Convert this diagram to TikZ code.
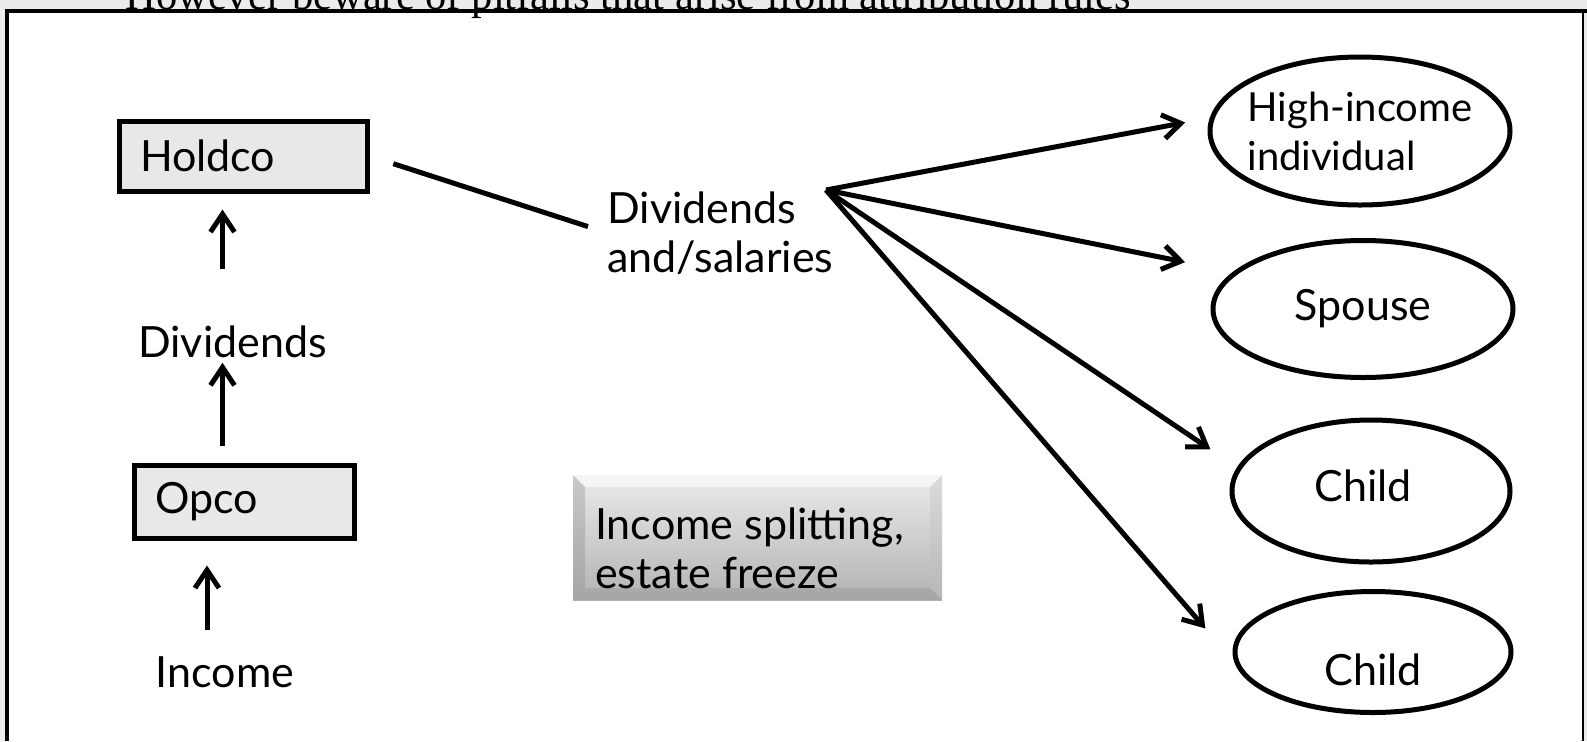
\documentclass[tikz,border=0pt]{standalone}
\usepackage{fontspec}
\setmainfont{Lato}
\newfontfamily\titlefont{Liberation Serif}
\usetikzlibrary{arrows.meta,shapes.geometric}

\tikzset{
  every node/.style={font=\fontsize{21.5}{24.5}\selectfont},
  company/.style={draw, line width=2.5pt, fill=black!9, inner xsep=10.5pt, align=left},
  person/.style={draw, ellipse, line width=2.5pt, inner sep=0pt},
  flow/.style={line width=2.5pt, -{Straight Barb[length=9pt,width=12pt]}},
  link/.style={line width=2.5pt},
  bevelbox/.style={top color=black!8, bottom color=black!30, inner sep=0pt,
    path picture={
      \fill[white, opacity=.6] (path picture bounding box.north west) -- (path picture bounding box.north east)
        -- ([shift={(-6pt,-6pt)}]path picture bounding box.north east) -- ([shift={(6pt,-6pt)}]path picture bounding box.north west) -- cycle;
      \fill[black!45, opacity=.35] (path picture bounding box.north west) -- ([shift={(6pt,-6pt)}]path picture bounding box.north west)
        -- ([shift={(6pt,6pt)}]path picture bounding box.south west) -- (path picture bounding box.south west) -- cycle;
      \fill[black!25, opacity=.35] (path picture bounding box.north east) -- ([shift={(-6pt,-6pt)}]path picture bounding box.north east)
        -- ([shift={(-6pt,6pt)}]path picture bounding box.south east) -- (path picture bounding box.south east) -- cycle;
      \fill[black!50, opacity=.25] (path picture bounding box.south west) -- ([shift={(6pt,6pt)}]path picture bounding box.south west)
        -- ([shift={(-6pt,6pt)}]path picture bounding box.south east) -- (path picture bounding box.south east) -- cycle;
    }},
}

\begin{document}
\begin{tikzpicture}[x=0.5pt,y=-0.5pt]
\useasboundingbox (0,0) rectangle (1587,741);

% Slide background and frame
\fill[black!8] (0,0) rectangle (1587,741);
\fill[white] (7,11) rectangle (1583,741);
\draw[line width=2pt] (5,11) -- (1587,11);
\draw[line width=2pt] (7,11) -- (7,741);
\draw[line width=1pt] (1583,11) -- (1583,741);
\node[font=\titlefont\fontsize{21.3}{25}\selectfont, anchor=base, inner sep=0pt] (title) at (628,9)
    {However beware of pitfalls that arise from attribution rules};

% Company chain
\node[company, text width=103pt, minimum height=35pt] (holdco) at (243,156) {Holdco};
\node[company, text width=89pt, minimum height=36.5pt] (opco) at (244,501.5) {Opco};
\node[anchor=base, inner sep=0pt] (divlbl) at (232.5,357) {Dividends};
\node[anchor=base, inner sep=0pt] (income) at (225,687) {Income};

\draw[flow, shorten <=28pt, shorten >=8pt] ([xshift=-5pt]divlbl.north) -- ([xshift=-5pt]divlbl.north |- holdco.south);
\draw[flow, shorten <=8.5pt, shorten >=2.5pt] ([xshift=-5pt]divlbl.south |- opco.north) -- ([xshift=-5pt]divlbl.south);
\draw[flow, shorten <=13pt, shorten >=12.5pt] ([xshift=-9pt]income.north) -- ([xshift=-9pt]income.north |- opco.south);

% Payments out of Holdco
\node[anchor=north west, align=left, inner sep=0pt] (divsal) at (607,191) {Dividends\\and/salaries};
\draw[link, shorten <=12.5pt, shorten >=10pt] (holdco.east) -- (divsal.west);
\coordinate (fan) at (826,190);

% Family members
\node[person, minimum width=150pt, minimum height=74pt,
      label={[align=left, font=\fontsize{20}{24.5}\selectfont]center:{High-income\\individual}}] (high) at (1360,131) {};
\node[person, minimum width=150pt, minimum height=68.5pt,
      label={center:Spouse}] (spouse) at (1363,309) {};
\node[person, minimum width=139pt, minimum height=71pt,
      label={[xshift=-4pt, yshift=2.5pt]center:Child}] (child1) at (1371,491) {};
\node[person, minimum width=138pt, minimum height=60.5pt,
      label={[yshift=-9pt]center:Child}] (child2) at (1373,652) {};

\foreach \who/\ang/\cut in {high/175/12.5pt, spouse/164/24.5pt, child1/170/16pt, child2/184/22pt}
  \draw[flow, shorten >=\cut] (fan) -- (\who.\ang);

% Strategy box
\node[bevelbox, minimum width=184.5pt, minimum height=62.5pt,
      label={[align=left, xshift=-4pt, yshift=-5.25pt]center:{Income splitting,\\estate freeze}}] (split) at (757.5,537.5) {};

\end{tikzpicture}
\end{document}
